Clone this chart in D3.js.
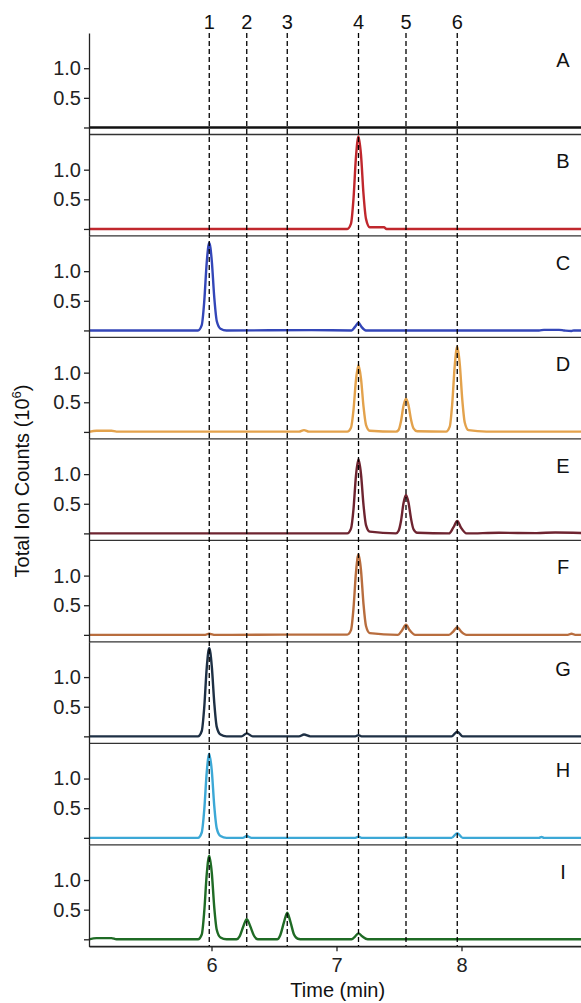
<!DOCTYPE html>
<html>
<head>
<meta charset="utf-8">
<script src="https://cdn.jsdelivr.net/npm/d3@7"></script>
<style>
  body { margin: 0; background: #fff; }
  text { font-family: "Liberation Sans", Arial, sans-serif; fill: #111; }
</style>
</head>
<body>
<div id="chart"></div>
<script>
// retention times of the marked peaks (min)
var peakTimes = [5.982, 6.282, 6.606, 7.176, 7.556, 7.966];
var peakLabels = ['1', '2', '3', '4', '5', '6'];
var panelLabels = ['A', 'B', 'C', 'D', 'E', 'F', 'G', 'H', 'I'];
var panelColors = ['#111111', '#c0272d', '#3346b8', '#e3a24c', '#6e2430', '#b86d3e', '#1e3045', '#3ca8d6', '#1f6b25'];
var xTicks = [6, 7, 8];
var yTicks = [0, 0.5, 1.0];

// traces: [time (min), total ion counts (10^6)]
var traceA = [[5.02, 0.0], [9.0, 0.0]];
var traceB = [[5.02, 0.0], [6.2, 0.0], [7.086, 0.0], [7.116, 0.09], [7.136, 0.51], [7.156, 1.22], [7.176, 1.56],
    [7.196, 1.25], [7.216, 0.59], [7.236, 0.17], [7.266, 0.03], [7.38, 0.03], [7.40, 0.0], [9.0, 0.0]];
var traceC = [[5.02, 0.0], [5.892, 0.0], [5.922, 0.09], [5.942, 0.49], [5.962, 1.15], [5.982, 1.48], [6.002, 1.18],
    [6.022, 0.56], [6.042, 0.16], [6.072, 0.03], [6.12, 0.0], [6.8, 0.005], [7.12, 0.0], [7.148, 0.06], [7.176, 0.13],
    [7.20, 0.06], [7.235, 0.0], [8.62, 0.0], [8.66, 0.01], [8.78, 0.01], [8.82, 0.0], [8.88, -0.01], [8.9, 0.0], [9.0, 0.0]];
var traceD = [[5.02, 0.0], [5.08, 0.02], [5.2, 0.02], [5.24, 0.005], [6.70, 0.005], [6.74, 0.03], [6.78, 0.005],
    [7.086, 0.005], [7.116, 0.07], [7.136, 0.37], [7.156, 0.88], [7.176, 1.13], [7.196, 0.9], [7.216, 0.43],
    [7.236, 0.12], [7.266, 0.02], [7.476, 0.005], [7.496, 0.03], [7.516, 0.18], [7.536, 0.44], [7.556, 0.56],
    [7.576, 0.45], [7.596, 0.21], [7.616, 0.06], [7.646, 0.01], [7.876, 0.005], [7.906, 0.09], [7.926, 0.48],
    [7.946, 1.12], [7.966, 1.44], [7.986, 1.15], [8.006, 0.55], [8.026, 0.16], [8.056, 0.03], [8.2, 0.005], [9.0, 0.005]];
var traceE = [[5.02, 0.0], [6.5, 0.0], [7.086, 0.0], [7.116, 0.08], [7.136, 0.41], [7.156, 0.98], [7.176, 1.25],
    [7.196, 1.0], [7.216, 0.48], [7.236, 0.14], [7.266, 0.03], [7.476, 0.0], [7.496, 0.04], [7.516, 0.21],
    [7.536, 0.51], [7.556, 0.65], [7.576, 0.52], [7.596, 0.25], [7.616, 0.07], [7.646, 0.01], [7.90, 0.0],
    [7.935, 0.1], [7.966, 0.21], [7.995, 0.1], [8.04, 0.0], [8.3, 0.01], [8.6, 0.005], [8.75, 0.015], [9.0, 0.005]];
var traceF = [[5.02, 0.0], [5.95, 0.0], [5.98, 0.02], [6.03, 0.0], [6.7, 0.005], [7.086, 0.005], [7.116, 0.08],
    [7.136, 0.45], [7.156, 1.06], [7.176, 1.36], [7.196, 1.09], [7.216, 0.52], [7.236, 0.15], [7.266, 0.03],
    [7.49, 0.0], [7.525, 0.08], [7.556, 0.17], [7.585, 0.08], [7.63, 0.0], [7.90, 0.0], [7.935, 0.06],
    [7.966, 0.13], [7.995, 0.06], [8.04, 0.0], [8.85, 0.0], [8.88, 0.02], [8.91, 0.0], [9.0, 0.0]];
var traceG = [[5.02, 0.0], [5.892, 0.0], [5.922, 0.09], [5.942, 0.49], [5.962, 1.16], [5.982, 1.49], [6.002, 1.19],
    [6.022, 0.57], [6.042, 0.16], [6.072, 0.03], [6.12, 0.0], [6.24, 0.0], [6.282, 0.05], [6.33, 0.0], [6.70, 0.0],
    [6.74, 0.03], [6.79, 0.0], [7.15, 0.0], [7.176, 0.02], [7.2, 0.0], [7.92, 0.0], [7.966, 0.08], [8.01, 0.0], [9.0, 0.0]];
var traceH = [[5.02, 0.0], [5.892, 0.0], [5.922, 0.09], [5.942, 0.47], [5.962, 1.11], [5.982, 1.42], [6.002, 1.14],
    [6.022, 0.54], [6.042, 0.16], [6.072, 0.03], [6.12, 0.0], [6.25, 0.0], [6.282, 0.03], [6.32, 0.0], [7.15, 0.0],
    [7.176, 0.02], [7.2, 0.0], [7.53, 0.0], [7.556, 0.01], [7.58, 0.0], [7.92, 0.0], [7.966, 0.08], [8.01, 0.0],
    [8.62, 0.0], [8.64, 0.015], [8.66, 0.0], [8.97, 0.0], [8.99, 0.02], [9.0, 0.0]];
var traceI = [[5.02, 0.0], [5.08, 0.02], [5.2, 0.02], [5.24, 0.0], [5.892, 0.0], [5.922, 0.08], [5.942, 0.47],
    [5.962, 1.1], [5.982, 1.41], [6.002, 1.13], [6.022, 0.54], [6.042, 0.16], [6.072, 0.03], [6.12, 0.0],
    [6.20, 0.0], [6.225, 0.05], [6.255, 0.22], [6.282, 0.34], [6.31, 0.22], [6.34, 0.06], [6.37, 0.0],
    [6.525, 0.0], [6.55, 0.07], [6.58, 0.29], [6.606, 0.45], [6.632, 0.29], [6.66, 0.08], [6.69, 0.01], [6.73, 0.0],
    [7.12, 0.0], [7.15, 0.05], [7.176, 0.1], [7.205, 0.05], [7.25, 0.0], [9.0, 0.0]];
var traces = [traceA, traceB, traceC, traceD, traceE, traceF, traceG, traceH, traceI];

var width = 581, height = 1003;
var margin = { top: 33, left: 89, right: 586.5, bottom: 946.3 };
var panelH = (margin.bottom - margin.top) / panelLabels.length;

var svg = d3.select('#chart').append('svg')
    .attr('width', width)
    .attr('height', height);

var x = d3.scaleLinear()
    .domain([5.02, 9.0])
    .range([margin.left, margin.right]);

var line = d3.line()
    .x(function (d) { return x(d[0]); })
    .curve(d3.curveMonotoneX);

panelLabels.forEach(function (label, i) {
    var top = margin.top + i * panelH;
    var y = d3.scaleLinear()
        .domain([-0.118, 1.594])
        .range([top + panelH, top]);

    var g = svg.append('g').attr('id', 'panel-' + label);

    // bottom separator
    g.append('line')
        .attr('x1', margin.left)
        .attr('x2', margin.right)
        .attr('y1', top + panelH)
        .attr('y2', top + panelH)
        .style('stroke', '#333')
        .style('stroke-width', 1.3);

    g.append('path')
        .datum(traces[i])
        .attr('d', line.y(function (d) { return y(d[1]); }))
        .style('fill', 'none')
        .style('stroke', panelColors[i])
        .style('stroke-width', 2.4)
        .style('stroke-linejoin', 'round');

    var yAxis = g.append('g')
        .attr('transform', 'translate(' + margin.left + ',0)')
        .call(d3.axisLeft(y)
            .tickValues(yTicks)
            .tickSize(5)
            .tickSizeOuter(0)
            .tickFormat(function (d) { return d === 0 ? '' : d3.format('.1f')(d); }));
    yAxis.selectAll('text').style('font-size', '20px').style('fill', '#222');
    yAxis.selectAll('line, path').style('stroke', '#222').style('stroke-width', 1.3);

    g.append('text')
        .attr('x', 563)
        .attr('y', top + 34)
        .attr('text-anchor', 'middle')
        .style('font-size', '20px')
        .text(label);
});

// reference lines for the numbered peaks
svg.selectAll('.ref')
    .data(peakTimes)
    .enter().append('line')
    .attr('class', 'ref')
    .attr('x1', function (d) { return x(d); })
    .attr('x2', function (d) { return x(d); })
    .attr('y1', margin.top)
    .attr('y2', margin.bottom)
    .style('stroke', '#000')
    .style('stroke-width', 1.3)
    .style('stroke-dasharray', '5,3');

svg.selectAll('.peak-label')
    .data(peakTimes)
    .enter().append('text')
    .attr('class', 'peak-label')
    .attr('x', function (d) { return x(d); })
    .attr('y', 29)
    .attr('text-anchor', 'middle')
    .style('font-size', '20px')
    .text(function (d, i) { return peakLabels[i]; });

var xAxis = svg.append('g')
    .attr('transform', 'translate(0,' + margin.bottom + ')')
    .call(d3.axisBottom(x)
        .tickValues(xTicks)
        .tickSize(5)
        .tickPadding(7)
        .tickSizeOuter(0)
        .tickFormat(d3.format('d')));
xAxis.selectAll('text').style('font-size', '20px').style('fill', '#222');
xAxis.selectAll('line, path').style('stroke', '#222').style('stroke-width', 1.3);

svg.append('text')
    .attr('x', (margin.left + margin.right) / 2)
    .attr('y', 997)
    .attr('text-anchor', 'middle')
    .style('font-size', '20px')
    .text('Time (min)');

var yTitle = svg.append('text')
    .attr('transform', 'translate(29,481) rotate(-90)')
    .attr('text-anchor', 'middle')
    .style('font-size', '20px');
yTitle.append('tspan').text('Total Ion Counts (10');
yTitle.append('tspan').attr('dy', -8).style('font-size', '13px').text('6');
yTitle.append('tspan').attr('dy', 8).text(')');
</script>
</body>
</html>
